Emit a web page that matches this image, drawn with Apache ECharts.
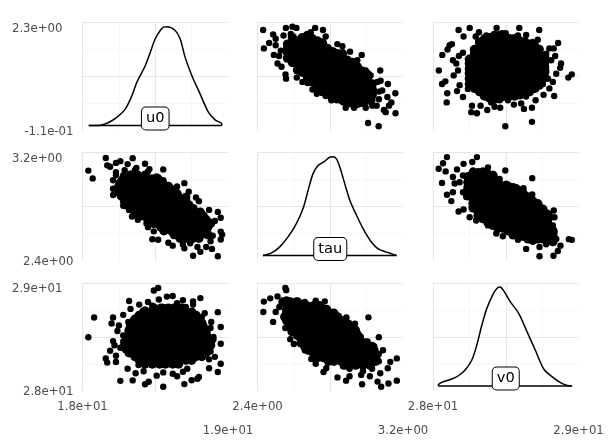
<!DOCTYPE html>
<html><head><meta charset="utf-8">
<style>html,body{margin:0;padding:0;background:#fff}#c{width:614px;height:446px}</style>
<script src="https://cdn.jsdelivr.net/npm/echarts@6/dist/echarts.min.js"></script>
</head><body><div id="c"></div>
<script>
// Variable ranges and tick labels
const u0Range=[18,19], tauRange=[2.4,3.2], v0Range=[28,29];
const u0Ticks=['1.8e+01','1.9e+01'], tauTicks=['2.4e+00','3.2e+00'], v0Ticks=['2.8e+01','2.9e+01'];
const densityTicks=['-1.1e-01','2.3e+00'];
const densU0Range=[-0.11,2.3], densTauRange=[-0.148,3.048], densV0Range=[-0.136,2.81];
const labelU0=[18.5,0.158,'u0'], labelTau=[2.8,0.192,'tau'], labelV0=[28.5,0.205,'v0'];

// Density curves
const densU0=[[18.043,0],[18.123,.009],[18.18,.069],[18.237,.188],[18.295,.374],[18.34,.671],[18.374,.969],[18.432,1.341],[18.466,1.638],[18.5,1.936],[18.534,2.122],[18.557,2.196],[18.58,2.204],[18.637,2.122],[18.671,1.936],[18.705,1.527],[18.751,1.118],[18.808,.708],[18.865,.299],[18.911,.128],[18.957,.039],[18.957,0]];
const baseU0=[[18.043,0],[18.957,0]];
const densTau=[[2.43,0],[2.475,.07],[2.521,.247],[2.567,.542],[2.613,.937],[2.65,1.38],[2.678,1.923],[2.705,2.416],[2.733,2.662],[2.77,2.79],[2.797,2.909],[2.816,2.919],[2.834,2.859],[2.853,2.613],[2.88,2.12],[2.908,1.627],[2.945,1.183],[2.981,.789],[3.027,.394],[3.064,.197],[3.11,.099],[3.165,0]];
const baseTau=[[2.43,0],[3.165,0]];
const densV0=[[28.037,0],[28.037,.027],[28.06,.1],[28.129,.19],[28.175,.28],[28.221,.436],[28.267,.709],[28.301,1.118],[28.336,1.663],[28.37,2.118],[28.416,2.527],[28.444,2.682],[28.462,2.7],[28.485,2.6],[28.531,2.3],[28.589,1.982],[28.646,1.482],[28.703,.982],[28.761,.464],[28.818,.255],[28.876,.091],[28.922,.018],[28.956,0]];
const baseV0=[[28.037,0],[28.956,0]];

// tau vs u0 samples: outer points, then the dense core by column
const tauU0Edge=[[2.431,18.93],[2.435,18.76],[2.464,18.81],[2.486,18.89],[2.5,18.85],[2.556,18.95],[2.592,18.96],[2.614,18.95],[2.717,18.95],[2.76,18.93],[2.775,18.87],[2.839,18.8],[2.867,18.78],[2.973,18.7],[3.075,18.555],[3.117,18.43],[3.158,18.345],[3.159,18.16],[3.066,18.04],[3.008,18.07],[2.49,18.7],[2.51,18.62],[2.532,18.59],[2.554,18.52],[2.557,18.48],[2.616,18.49],[2.647,18.45],[2.675,18.44],[2.702,18.38],[2.726,18.34],[2.775,18.32],[2.806,18.28],[2.836,18.28],[2.872,18.26],[2.885,18.21],[2.931,18.21],[2.995,18.21],[3.031,18.23],[3.055,18.23],[3.095,18.19],[3.105,18.17],[3.123,18.23],[3.136,18.26],[3.114,18.31],[3.068,18.36],[3.086,18.37],[3.059,18.45],[3.077,18.46],[3.031,18.28],[3.068,18.29],[3.022,18.51],[2.995,18.555],[2.949,18.65],[2.909,18.73],[2.693,18.91],[2.656,18.86],[2.583,18.895],[2.543,18.88],[2.5,18.79],[2.528,18.74],[2.519,18.69]];
const tauU0Core=[
[2.565,[18.8,18.76,18.72,18.67]],
[2.592,[18.86,18.81,18.77,18.72,18.68,18.63]],
[2.62,[18.83,18.79,18.74,18.7,18.65,18.61,18.56]],
[2.647,[18.86,18.81,18.76,18.72,18.67,18.63,18.58,18.54]],
[2.675,[18.88,18.83,18.79,18.74,18.7,18.65,18.61,18.56,18.52,18.49]],
[2.702,[18.85,18.81,18.76,18.72,18.67,18.63,18.58,18.54,18.49,18.45]],
[2.729,[18.83,18.79,18.74,18.7,18.65,18.61,18.56,18.52,18.47,18.43,18.39]],
[2.757,[18.81,18.76,18.72,18.67,18.63,18.58,18.54,18.49,18.45,18.4,18.36]],
[2.784,[18.76,18.72,18.67,18.63,18.58,18.54,18.49,18.45,18.4,18.36]],
[2.812,[18.73,18.69,18.65,18.6,18.56,18.51,18.47,18.42,18.38,18.33,18.3]],
[2.839,[18.71,18.67,18.62,18.58,18.53,18.49,18.44,18.4,18.35,18.31]],
[2.867,[18.71,18.66,18.61,18.57,18.52,18.48,18.43,18.39,18.34,18.28]],
[2.894,[18.65,18.6,18.56,18.51,18.47,18.42,18.38,18.33,18.29,18.26]],
[2.922,[18.63,18.58,18.54,18.49,18.45,18.4,18.36,18.31,18.25]],
[2.949,[18.59,18.55,18.5,18.46,18.41,18.37,18.32,18.28,18.25]],
[2.976,[18.55,18.51,18.46,18.42,18.37,18.33,18.28,18.26]],
[3.004,[18.52,18.48,18.43,18.39,18.34,18.3,18.28]],
[3.031,[18.43,18.38,18.33]]];

// v0 vs u0 samples
const v0U0Edge=[[28.04,18.555],[28.064,18.7],[28.1,18.75],[28.114,18.79],[28.13,18.8],[28.176,18.93],[28.21,18.87],[28.252,18.95],[28.293,18.87],[28.316,18.91],[28.366,18.88],[28.437,18.95],[28.476,18.9],[28.5,18.9],[28.593,18.95],[28.584,18.88],[28.64,18.885],[28.73,18.93],[28.72,18.84],[28.86,18.81],[28.8,18.76],[28.83,18.76],[28.84,18.69],[28.88,18.62],[28.874,18.58],[28.847,18.525],[28.824,18.45],[28.954,18.52],[28.93,18.49],[28.833,18.32],[28.8,18.39],[28.76,18.33],[28.705,18.28],[28.68,18.21],[28.68,18.08],[28.497,18.04],[28.625,18.2],[28.556,18.24],[28.606,18.25],[28.462,18.21],[28.423,18.22],[28.373,18.19],[28.327,18.23],[28.268,18.23],[28.263,18.17],[28.302,18.16],[28.094,18.26],[28.098,18.345],[28.062,18.43],[28.085,18.455],[28.165,18.365],[28.206,18.31],[28.183,18.42],[28.24,18.385],[28.142,18.51],[28.172,18.555],[28.137,18.65],[28.178,18.69],[28.206,18.72],[28.16,18.62],[28.275,18.75],[28.343,18.32],[28.4,18.26],[28.458,18.28],[28.515,18.28],[28.64,18.315],[28.755,18.43],[28.79,18.48],[28.778,18.555],[28.812,18.65],[28.778,18.71],[28.686,18.82],[28.618,18.83],[28.55,18.83]];
const v0U0Core=[
[28.25,[18.66,18.62,18.57,18.53,18.48,18.43]],
[28.286,[18.75,18.71,18.66,18.62,18.57,18.53,18.48,18.44,18.39]],
[28.32,[18.82,18.78,18.73,18.69,18.64,18.6,18.55,18.51,18.46,18.42,18.36]],
[28.355,[18.85,18.8,18.76,18.71,18.67,18.62,18.58,18.53,18.49,18.44,18.4,18.35,18.32]],
[28.39,[18.86,18.82,18.77,18.73,18.68,18.64,18.59,18.55,18.5,18.46,18.41,18.37,18.32,18.3]],
[28.423,[18.88,18.84,18.79,18.75,18.7,18.66,18.61,18.57,18.52,18.48,18.43,18.39,18.34,18.29]],
[28.458,[18.88,18.83,18.78,18.74,18.69,18.65,18.6,18.56,18.51,18.47,18.42,18.38,18.33,18.3]],
[28.49,[18.86,18.81,18.77,18.72,18.68,18.63,18.59,18.54,18.5,18.45,18.41,18.36,18.32]],
[28.526,[18.85,18.8,18.75,18.71,18.66,18.62,18.57,18.53,18.48,18.44,18.39,18.35,18.32]],
[28.56,[18.85,18.81,18.76,18.72,18.67,18.63,18.58,18.54,18.49,18.45,18.4,18.36,18.32]],
[28.595,[18.83,18.78,18.74,18.69,18.65,18.6,18.56,18.51,18.47,18.42,18.38,18.33]],
[28.63,[18.82,18.77,18.73,18.68,18.64,18.59,18.55,18.5,18.46,18.41,18.37,18.34]],
[28.664,[18.8,18.75,18.71,18.66,18.62,18.57,18.53,18.48,18.44,18.39,18.36]],
[28.7,[18.78,18.74,18.69,18.65,18.6,18.56,18.51,18.47,18.42,18.39]],
[28.73,[18.75,18.71,18.66,18.62,18.57,18.53,18.48,18.44,18.42]],
[28.767,[18.68,18.63,18.59,18.54,18.49]]];

// v0 vs tau samples
const v0TauEdge=[[28.096,3.166],[28.069,3.12],[28.039,3.08],[28.087,3.06],[28.062,2.975],[28.165,3.075],[28.21,3.116],[28.27,3.13],[28.302,3.166],[28.378,3.09],[28.497,3.067],[28.682,3.01],[28.622,2.936],[28.682,2.889],[28.137,3.018],[28.149,2.97],[28.137,2.906],[28.096,2.887],[28.126,2.84],[28.176,2.763],[28.21,2.778],[28.252,2.72],[28.297,2.696],[28.378,2.66],[28.435,2.6],[28.48,2.58],[28.508,2.62],[28.584,2.553],[28.64,2.486],[28.732,2.432],[28.828,2.435],[28.858,2.47],[28.732,2.5],[28.778,2.52],[28.876,2.51],[28.847,2.56],[28.934,2.558],[28.954,2.553],[28.835,2.61],[28.824,2.66],[28.835,2.72],[28.83,2.77],[28.778,2.758],[28.732,2.807],[28.698,2.832],[28.64,2.882],[28.572,2.943],[28.503,2.968],[28.458,3.005],[28.412,3.042],[28.343,3.067],[28.275,3.067],[28.206,3.03],[28.183,2.98],[28.206,2.906],[28.229,2.87],[28.275,2.795],[28.778,2.6],[28.686,2.548],[28.8,2.709]];
const v0TauCore=[
[28.24,[3.02,2.98,2.94,2.91,2.88]],
[28.275,[3.05,3.01,2.97,2.93,2.9,2.86,2.82,2.79]],
[28.31,[3.05,3.02,2.98,2.94,2.91,2.87,2.83,2.8,2.76,2.73]],
[28.343,[3.04,3,2.96,2.93,2.89,2.85,2.82,2.78,2.74,2.71]],
[28.378,[3.04,3.02,2.98,2.94,2.91,2.87,2.83,2.8,2.76,2.72,2.68]],
[28.412,[3.03,3,2.96,2.93,2.89,2.85,2.82,2.78,2.74,2.7,2.66]],
[28.446,[2.99,2.95,2.92,2.88,2.84,2.81,2.77,2.73,2.7,2.66,2.64]],
[28.48,[2.95,2.91,2.87,2.84,2.8,2.76,2.73,2.69,2.65,2.64]],
[28.515,[2.95,2.92,2.88,2.84,2.81,2.77,2.73,2.7,2.66,2.62]],
[28.55,[2.94,2.9,2.86,2.83,2.79,2.75,2.72,2.68,2.64,2.61,2.59]],
[28.584,[2.92,2.88,2.85,2.81,2.77,2.74,2.7,2.66,2.63,2.59]],
[28.618,[2.9,2.86,2.82,2.79,2.75,2.71,2.68,2.64,2.6,2.58]],
[28.652,[2.87,2.83,2.8,2.76,2.72,2.69,2.65,2.61,2.58,2.56]],
[28.686,[2.84,2.81,2.77,2.73,2.7,2.66,2.62,2.59,2.55]],
[28.72,[2.82,2.78,2.74,2.71,2.67,2.63,2.6,2.56]],
[28.755,[2.78,2.75,2.71,2.67,2.64,2.6,2.56]],
[28.79,[2.74,2.71,2.67,2.63,2.6,2.57]],
[28.824,[2.62,2.58,2.54]]];

const flat=core=>core.flatMap(c=>c[1].map(v=>[c[0],v]));
const swap=a=>a.map(p=>[p[1],p[0]]);

const vars=[{r:u0Range,t:u0Ticks},{r:tauRange,t:tauTicks},{r:v0Range,t:v0Ticks}];
const dens=[{r:densU0Range,t:densityTicks,c:densU0,b:baseU0,l:labelU0},
            {r:densTauRange,c:densTau,b:baseTau,l:labelTau},
            {r:densV0Range,c:densV0,b:baseV0,l:labelV0}];
const edges=[[null,tauU0Edge,v0U0Edge],[swap(tauU0Edge),null,v0TauEdge],[swap(v0U0Edge),swap(v0TauEdge),null]];
const cores=[[null,flat(tauU0Core),flat(v0U0Core)],[swap(flat(tauU0Core)),null,flat(v0TauCore)],[swap(flat(v0U0Core)),swap(flat(v0TauCore)),null]];
const lefts=[82.5,257.5,433], tops=[22.5,152.5,283], W=145.5, H=108;
const TXT={color:'#4D4D4D',fontSize:11.73,fontFamily:'DejaVu Sans'};
const grid=[],xAxis=[],yAxis=[],series=[];
const gl={show:true,lineStyle:{color:'#E6E6E6',width:1.1}}, ml={show:true,lineStyle:{color:'#F3F3F3',width:.7}};
for(let row=0;row<3;row++)for(let col=0;col<3;col++){
  const g=grid.length, ax=xAxis.length, ay=yAxis.length;
  grid.push({left:lefts[col],top:tops[row],width:W,height:H});
  const xv=vars[col];
  const yv=row===col?dens[row]:vars[row];
  const yr=yv.r;
  const ylab=col===0?(row===0?dens[0].t:vars[row].t):null;
  xAxis.push({type:'value',gridIndex:g,min:xv.r[0],max:xv.r[1],splitLine:{show:false},axisLine:{show:false},axisTick:{show:false},
    axisLabel:row===2?{show:true,customValues:xv.r,margin:10,hideOverlap:false,
      formatter:v=>v===xv.r[0]?'{a|'+xv.t[0]+'}':'{b|'+xv.t[1]+'}',
      rich:{a:TXT,b:Object.assign({padding:[24,0,0,0]},TXT)}}:{show:false}});
  yAxis.push({type:'value',gridIndex:g,min:yr[0],max:yr[1],splitLine:{show:false},axisLine:{show:false},axisTick:{show:false},
    axisLabel:ylab?{show:true,customValues:yr,margin:9,verticalAlignMaxLabel:'top',hideOverlap:false,
      formatter:v=>v===yr[0]?'{a|'+ylab[0]+'}':'{b|'+ylab[1]+'}',
      rich:{a:Object.assign({padding:[2,0,0,0]},TXT),b:Object.assign({padding:[0,11,0,0]},TXT)}}:{show:false}});
  // background guide lines
  xAxis.push({type:'value',gridIndex:g,min:0,max:2,interval:1,axisLine:{show:false},axisTick:{show:false},axisLabel:{show:false},
    splitLine:Object.assign({showMaxLine:false},gl),minorTick:{show:false,splitNumber:2},minorSplitLine:ml});
  yAxis.push({type:'value',gridIndex:g,min:0,max:2,interval:1,axisLine:{show:false},axisTick:{show:false},axisLabel:{show:false},
    splitLine:Object.assign({showMinLine:false},gl),minorTick:{show:false,splitNumber:2},minorSplitLine:ml});
  const idx={xAxisIndex:ax,yAxisIndex:ay};
  if(row===col){
    const d=dens[row];
    series.push(Object.assign({type:'line',data:d.c,smooth:.3,showSymbol:false,symbol:'none',clip:false,lineStyle:{color:'#000',width:1.5},silent:true},idx));
    series.push(Object.assign({type:'line',data:d.b,showSymbol:false,symbol:'none',clip:false,lineStyle:{color:'#000',width:1.5},silent:true},idx));
    series.push(Object.assign({type:'scatter',symbolSize:0,silent:true,z:5,itemStyle:{opacity:1},data:[{value:[d.l[0],d.l[1]],name:d.l[2]}],
      label:{show:true,position:'inside',formatter:'{b}',color:'#000',opacity:1,fontFamily:'DejaVu Sans',fontSize:14.67,backgroundColor:'#fff',
        borderColor:'#000',borderWidth:1,borderRadius:4,padding:[4,4,3,4]}},idx));
  }else{
    series.push(Object.assign({type:'scatter',data:cores[row][col],symbol:'circle',symbolSize:9.4,clip:false,itemStyle:{color:'#000',opacity:1},silent:true},idx));
    series.push(Object.assign({type:'scatter',data:edges[row][col],symbol:'circle',symbolSize:6.4,clip:false,itemStyle:{color:'#000',opacity:1},silent:true},idx));
  }
}
const chart=echarts.init(document.getElementById('c'),null,{renderer:'canvas'});
chart.setOption({animation:false,backgroundColor:'#fff',grid,xAxis,yAxis,series,tooltip:{show:false}});
</script></body></html>
